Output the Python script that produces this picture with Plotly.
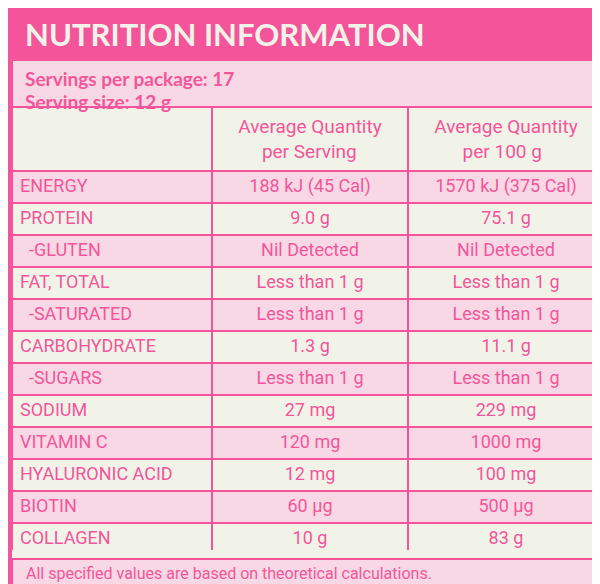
import plotly.graph_objects as go

W, H = 600, 584
PINK = "#F4559A"
LIGHT = "#F8D8E4"
CREAM = "#F1F3E9"

title = "NUTRITION INFORMATION"
servings = ["Servings per package: 17", "Serving size: 12 g"]
col_headers = ["", "Average Quantity<br>\u00a0\u00a0\u00a0\u00a0\u00a0per Serving",
               "Average Quantity<br>\u00a0\u00a0\u00a0\u00a0\u00a0\u00a0per 100 g"]
nutrients = ["ENERGY", "PROTEIN", "\u00a0\u00a0-GLUTEN", "FAT, TOTAL", "\u00a0\u00a0-SATURATED",
             "CARBOHYDRATE", "\u00a0\u00a0-SUGARS", "SODIUM", "VITAMIN C",
             "HYALURONIC ACID", "BIOTIN", "COLLAGEN"]
per_serving = ["188 kJ (45 Cal)", "9.0 g", "Nil Detected", "Less than 1 g", "Less than 1 g",
               "1.3 g", "Less than 1 g", "27 mg", "120 mg", "12 mg", "60 µg", "10 g"]
per_100g = ["1570 kJ (375 Cal)", "75.1 g", "Nil Detected", "Less than 1 g", "Less than 1 g",
            "11.1 g", "Less than 1 g", "229 mg", "1000 mg", "100 mg", "500 µg", "83 g"]
footnote = "All specified values are based on theoretical calculations."


def py(px):
    # pixel from top -> paper y
    return 1 - px / H


def px_x(px):
    return px / W


row_fill = [LIGHT if i % 2 == 0 else CREAM for i in range(len(nutrients))]

fig = go.Figure(go.Table(
    domain=dict(x=[px_x(4), px_x(596)], y=[py(543), py(99)]),
    columnwidth=[200, 196, 196],
    header=dict(
        values=col_headers,
        fill_color=CREAM,
        line=dict(color=PINK, width=2),
        align="center",
        height=58,
        font=dict(family="Roboto", size=19, color=PINK),
    ),
    cells=dict(
        values=[nutrients, per_serving, per_100g],
        fill_color=[row_fill] * 3,
        line=dict(color=PINK, width=2),
        align=["left", "center", "center"],
        height=32,
        font=dict(family="Roboto", size=18, color=PINK),
    ),
))

shapes = [
    # title band
    dict(type="rect", xref="paper", yref="paper", x0=0, x1=1, y0=py(52), y1=1,
         fillcolor=PINK, line=dict(width=0), layer="below"),
    # servings box
    dict(type="rect", xref="paper", yref="paper", x0=px_x(4), x1=px_x(596), y0=py(107), y1=py(52),
         fillcolor=LIGHT, line=dict(color=PINK, width=2), layer="below"),
    # footnote box
    dict(type="rect", xref="paper", yref="paper", x0=px_x(4), x1=px_x(596), y0=py(580), y1=py(551),
         fillcolor=LIGHT, line=dict(color=PINK, width=2), layer="below"),
    # outer border
    dict(type="rect", xref="paper", yref="paper", x0=px_x(2), x1=px_x(597), y0=py(582), y1=py(2),
         line=dict(color=PINK, width=4)),
]

annotations = [
    dict(text="<b>" + title + "</b>", x=px_x(15), y=py(26), xref="paper", yref="paper",
         xanchor="left", yanchor="middle", showarrow=False,
         font=dict(family="Lato", size=31, color=CREAM)),
    dict(text="<b>" + servings[0] + "</b>", x=px_x(15), y=py(70), xref="paper", yref="paper",
         xanchor="left", yanchor="middle", showarrow=False,
         font=dict(family="Lato", size=19, color=PINK)),
    dict(text="<b>" + servings[1] + "</b>", x=px_x(15), y=py(93), xref="paper", yref="paper",
         xanchor="left", yanchor="middle", showarrow=False,
         font=dict(family="Lato", size=19, color=PINK)),
    dict(text=footnote, x=px_x(16), y=py(565), xref="paper", yref="paper",
         xanchor="left", yanchor="middle", showarrow=False,
         font=dict(family="Roboto", size=16, color=PINK)),
]

fig.update_layout(
    width=W, height=H,
    margin=dict(l=0, r=0, t=0, b=0),
    paper_bgcolor=CREAM,
    shapes=shapes,
    annotations=annotations,
)

fig.write_html("out.html")
